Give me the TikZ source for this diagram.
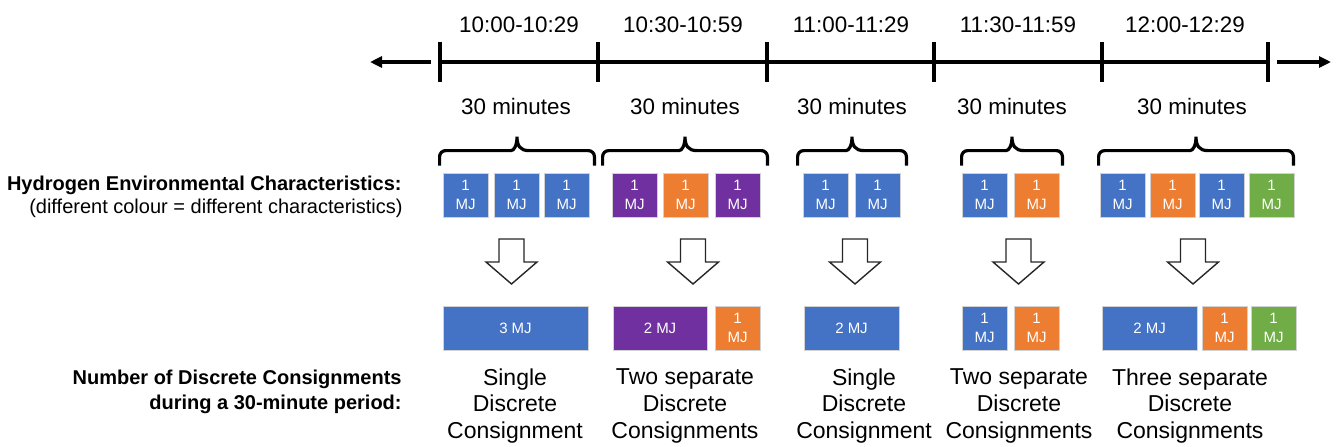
\documentclass[tikz,border=0pt]{standalone}
\usepackage{fontspec}
\setmainfont{Liberation Sans}
\usetikzlibrary{arrows.meta,calc}
\definecolor{mjblue}{HTML}{4472C4}
\definecolor{mjorange}{HTML}{ED7D31}
\definecolor{mjpurple}{HTML}{7030A0}
\definecolor{mjgreen}{HTML}{70AD47}

\begin{document}
\begin{tikzpicture}[x=0.5pt,y=-0.5pt,
    tl/.style={line width=2.1pt},
    tip/.style={tl,-{Triangle[length=6pt,width=5.5pt]}},
    brc/.style={line width=1.6pt,
      to path={let \p1=(\tikztostart),\p2=(\tikztotarget),\p3=($(\p1)!0.5!(\p2)$) in
        (\p1) [rounded corners=3pt] -- (\x1,\y1+7.5pt) -- (\x3-6pt,\y1+7.5pt) [sharp corners]
        .. controls (\x3-1.5pt,\y1+7.5pt) and (\x3,\y1+10pt) .. (\x3,\y1+14.5pt)
        .. controls (\x3,\y1+10pt) and (\x3+1.5pt,\y1+7.5pt) .. (\x3+6pt,\y1+7.5pt)
        [rounded corners=3pt] -- (\x2,\y2+7.5pt) -- (\p2)}},
    hollow/.style={draw=black!85,line width=0.7pt,fill=white},
    mj/.style={draw=gray!35,line width=0.4pt,text=white,minimum height=22pt,inner sep=0pt,
      align=center,font=\fontsize{7.5}{9.5}\selectfont},
    unit/.style={mj,minimum width=22.5pt},
    period/.style={anchor=base,font=\fontsize{11.2}{13}\selectfont},
    side/.style={anchor=base east,inner sep=0pt,font=\fontsize{10}{12}\selectfont},
    outcome/.style={align=center,font=\fontsize{11.5}{13.3}\selectfont}]
    \useasboundingbox (0,0) rectangle (1338,446);

    % Draw the time line
    \coordinate (t0) at (440,62);
    \coordinate (t1) at (598,62);
    \coordinate (t2) at (767,62);
    \coordinate (t3) at (934,62);
    \coordinate (t4) at (1102,62);
    \coordinate (t5) at (1268,62);
    \draw[tl] (t0) -- (t5);
    \foreach \i in {0,...,5}
        \draw[tl] ([shift={(0,-20)}]t\i) -- ([shift={(0,20)}]t\i);
    \coordinate (la) at (431,62);
    \coordinate (lb) at (370,62);
    \coordinate (ra) at (1277,62);
    \coordinate (rb) at (1331,62);
    \draw[tip] (la) -- (lb);
    \draw[tip] (ra) -- (rb);

    % Label the periods
    \node[period] (time1) at (519,32) {10:00-10:29};
    \node[period] (time2) at (683,32) {10:30-10:59};
    \node[period] (time3) at (851,32) {11:00-11:29};
    \node[period] (time4) at (1018,32) {11:30-11:59};
    \node[period] (time5) at (1185,32) {12:00-12:29};
    \foreach \x [count=\i] in {516,685,852,1012,1192}
        \node[period] (mins\i) at (\x,114) {30 minutes};

    % Left hand labels
    \node[side,font=\fontsize{10}{12}\selectfont\bfseries] (hec) at (402,190)
        {Hydrogen Environmental Characteristics:};
    \node[side] (hecnote) at (403,213) {(different colour = different characteristics)};
    \node[side,font=\fontsize{10}{12}\selectfont\bfseries] (ndc) at (402,384)
        {Number of Discrete Consignments};
    \node[side,font=\fontsize{10}{12}\selectfont\bfseries] (ndcnote) at (402,409)
        {during a 30-minute period:};

    % Draw the 1 MJ units
    \node[unit,fill=mjblue] (a1) at (465.5,195) {1\\MJ};
    \node[unit,fill=mjblue] (a2) at (516.5,195) {1\\MJ};
    \node[unit,fill=mjblue] (a3) at (566.5,195) {1\\MJ};
    \node[unit,fill=mjpurple] (b1) at (634.5,195) {1\\MJ};
    \node[unit,fill=mjorange] (b2) at (685.5,195) {1\\MJ};
    \node[unit,fill=mjpurple] (b3) at (737.5,195) {1\\MJ};
    \node[unit,fill=mjblue] (c1) at (825.5,195) {1\\MJ};
    \node[unit,fill=mjblue] (c2) at (877.5,195) {1\\MJ};
    \node[unit,fill=mjblue] (d1) at (984.5,195) {1\\MJ};
    \node[unit,fill=mjorange] (d2) at (1036.5,195) {1\\MJ};
    \node[unit,fill=mjblue] (e1) at (1122.5,195) {1\\MJ};
    \node[unit,fill=mjorange] (e2) at (1172.5,195) {1\\MJ};
    \node[unit,fill=mjblue] (e3) at (1221.5,195) {1\\MJ};
    \node[unit,fill=mjgreen] (e4) at (1271.5,195) {1\\MJ};

    % Braces over each period
    \foreach \l/\r/\dl/\dr in {a1/a3/-3/5,b1/b3/-9/7,c1/c2/-5/6,d1/d2/0/3,e1/e4/-1/-1}
        \draw[brc] ([shift={(\dl,-7)}]\l.north west) to ([shift={(\dr,-7)}]\r.north east);

    % Draw the hollow arrows
    \foreach \cx in {511.5,693,855,1018.5,1193}
        \draw[hollow] ({\cx-12.5},239) -- ({\cx+12.5},239) -- ({\cx+12.5},262) -- ({\cx+25.5},262)
            -- (\cx,284) -- ({\cx-25.5},262) -- ({\cx-12.5},262) -- cycle;

    % Draw the consignments
    \node[mj,fill=mjblue,minimum width=72.5pt] (p1) at (515.5,328) {3 MJ};
    \node[mj,fill=mjpurple,minimum width=47pt] (q1) at (660,328) {2 MJ};
    \node[unit,fill=mjorange] (q2) at (737.5,328) {1\\MJ};
    \node[mj,fill=mjblue,minimum width=47.5pt] (r1) at (851.5,328) {2 MJ};
    \node[unit,fill=mjblue] (s1) at (984.5,328) {1\\MJ};
    \node[unit,fill=mjorange] (s2) at (1036.5,328) {1\\MJ};
    \node[mj,fill=mjblue,minimum width=47.5pt] (u1) at (1149.5,328) {2 MJ};
    \node[unit,fill=mjorange] (u2) at (1224.5,328) {1\\MJ};
    \node[unit,fill=mjgreen] (u3) at (1273.5,328) {1\\MJ};

    % Number of consignments
    \node[outcome] (out1) at (515,406) {Single\\Discrete\\Consignment};
    \node[outcome] (out2) at (685,406) {Two separate\\Discrete\\Consignments};
    \node[outcome] (out3) at (864,406) {Single\\Discrete\\Consignment};
    \node[outcome] (out4) at (1019,406) {Two separate\\Discrete\\Consignments};
    \node[outcome] (out5) at (1190,406) {Three separate\\Discrete\\Consignments};
\end{tikzpicture}
\end{document}
